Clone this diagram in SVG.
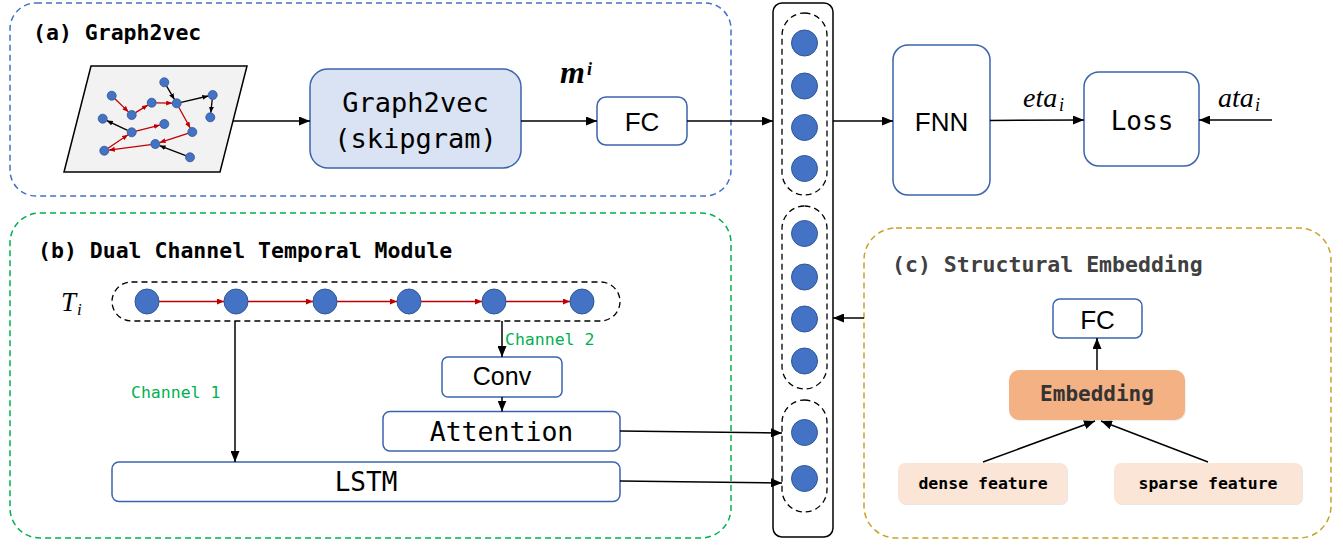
<svg xmlns="http://www.w3.org/2000/svg" width="1343" height="548" viewBox="0 0 1343 548">
<style>
.mono{font-family:"DejaVu Sans Mono","Liberation Mono",monospace;fill:#000}
.title{font-family:"DejaVu Sans Mono","Liberation Mono",monospace;font-weight:bold;font-size:21.5px}
.sans{font-family:"Liberation Sans",Arial,sans-serif;fill:#000}
.math{font-family:"Liberation Serif","Times New Roman",serif;font-style:italic;fill:#000}
.box{fill:#fff;stroke:#3a64ad;stroke-width:1.5}
.dot{fill:#4472c4;stroke:#2f5597;stroke-width:1}
.gdot{fill:#4472c4;stroke:#2f5597;stroke-width:0.8}
.grp{fill:none;stroke:#000;stroke-width:1.3;stroke-dasharray:6 4}
.conn{fill:none;stroke:#000;stroke-width:1.5}
.red{fill:none;stroke:#c00000;stroke-width:1.3}
.gblk{fill:none;stroke:#000;stroke-width:1.3}
.ch{font-family:"DejaVu Sans Mono","Liberation Mono",monospace;font-size:16.5px;fill:#00b050}
</style>
<defs>
<marker id="ah" markerUnits="userSpaceOnUse" markerWidth="11" markerHeight="9" refX="11" refY="4.5" orient="auto"><path d="M0,0 L11,4.5 L0,9 z" fill="#000"/></marker>
<marker id="ahr" markerUnits="userSpaceOnUse" markerWidth="7" markerHeight="6" refX="7" refY="3" orient="auto"><path d="M0,0 L7,3 L0,6 z" fill="#c00000"/></marker>
<marker id="ahg" markerUnits="userSpaceOnUse" markerWidth="6" markerHeight="5" refX="6" refY="2.5" orient="auto"><path d="M0,0 L6,2.5 L0,5 z" fill="#c00000"/></marker>
<marker id="ahk" markerUnits="userSpaceOnUse" markerWidth="6" markerHeight="5" refX="6" refY="2.5" orient="auto"><path d="M0,0 L6,2.5 L0,5 z" fill="#000"/></marker>
</defs>
<rect width="1343" height="548" fill="#fff"/>

<!-- module containers -->
<g id="module-a">
<rect x="10" y="3" width="721" height="193" rx="26" fill="none" stroke="#4472c4" stroke-width="1.5" stroke-dasharray="6 4"/>
<text class="title" x="33" y="40">(a) Graph2vec</text>
</g>
<g id="module-b">
<rect x="10" y="213" width="721" height="325" rx="30" fill="none" stroke="#00b050" stroke-width="1.5" stroke-dasharray="6 4"/>
<text class="title" x="38" y="258">(b) Dual Channel Temporal Module</text>
</g>
<g id="module-c">
<rect x="864" y="228" width="467" height="310" rx="32" fill="none" stroke="#c9a227" stroke-width="1.5" stroke-dasharray="6 4"/>
<text class="title" x="892" y="272" fill="#404040">(c) Structural Embedding</text>
</g>

<!-- graph picture -->
<g id="graph-input">
<polygon points="91,66 247,66 220,172 64,172" fill="#f2f2f2" stroke="#000" stroke-width="1.5"/>
<g marker-end="url(#ahg)" class="red">
<line x1="114.9" y1="98.8" x2="128.5" y2="111.9"/>
<line x1="135.5" y1="112.6" x2="147.9" y2="105.1"/>
<line x1="156.2" y1="102.8" x2="172.2" y2="103.2"/>
<line x1="178.8" y1="107.3" x2="190.2" y2="128.0"/>
<line x1="188.0" y1="133.4" x2="159.6" y2="142.6"/>
<line x1="150.8" y1="144.6" x2="108.8" y2="150.1"/>
<line x1="108.0" y1="148.2" x2="128.0" y2="134.8"/>
<line x1="136.1" y1="131.2" x2="159.9" y2="125.1"/>
</g>
<g marker-end="url(#ahk)" class="gblk">
<line x1="166.6" y1="86.2" x2="174.4" y2="99.4"/>
<line x1="181.1" y1="102.3" x2="208.3" y2="96.0"/>
<line x1="212.2" y1="99.5" x2="210.8" y2="112.8"/>
<line x1="127.6" y1="130.4" x2="106.8" y2="120.6"/>
<line x1="185.8" y1="155.7" x2="159.5" y2="145.6"/>
</g>
<g class="gdot">
<circle cx="111.7" cy="95.7" r="4.5"/>
<circle cx="131.7" cy="115" r="4.5"/>
<circle cx="151.7" cy="102.7" r="4.5"/>
<circle cx="176.7" cy="103.3" r="4.5"/>
<circle cx="164.3" cy="82.3" r="4.5"/>
<circle cx="212.7" cy="95" r="4.5"/>
<circle cx="210.3" cy="117.3" r="4.5"/>
<circle cx="102.7" cy="118.7" r="4.5"/>
<circle cx="131.7" cy="132.3" r="4.5"/>
<circle cx="164.3" cy="124" r="4.5"/>
<circle cx="192.3" cy="132" r="4.5"/>
<circle cx="155.3" cy="144" r="4.5"/>
<circle cx="104.3" cy="150.7" r="4.5"/>
<circle cx="190" cy="157.3" r="4.5"/>
</g>
</g>

<g id="graph2vec">
<rect x="310" y="69" width="211" height="99" rx="18" fill="#dae3f3" stroke="#3a64ad" stroke-width="1.5"/>
<text class="mono" x="415.5" y="112" font-size="27" text-anchor="middle">Graph2vec</text>
<text class="mono" x="415.5" y="148" font-size="27" text-anchor="middle">(skipgram)</text>
</g>

<g id="mi-label">
<text x="560" y="83" font-family="Liberation Serif,Times New Roman,serif" font-style="italic" font-weight="bold" font-size="32">m</text>
<text x="587" y="75" font-family="Liberation Serif,Times New Roman,serif" font-style="italic" font-weight="bold" font-size="18">i</text>
</g>

<g id="fc-a">
<rect class="box" x="597" y="97" width="90" height="48" rx="9"/>
<text class="sans" x="642" y="130.5" font-size="26" text-anchor="middle">FC</text>
</g>

<!-- concatenation column -->
<g id="concat-column">
<rect x="773" y="3" width="60" height="534" rx="9" fill="#fff" stroke="#000" stroke-width="1.5"/>
<rect class="grp" x="782" y="13" width="45" height="182" rx="22.5"/>
<rect class="grp" x="782" y="206" width="45" height="183" rx="22.5"/>
<rect class="grp" x="782" y="400" width="45" height="112" rx="22.5"/>
<g class="dot">
<circle cx="804.5" cy="43" r="13"/>
<circle cx="804.5" cy="86" r="13"/>
<circle cx="804.5" cy="127.5" r="13"/>
<circle cx="804.5" cy="168.5" r="13"/>
<circle cx="804.5" cy="233.5" r="13"/>
<circle cx="804.5" cy="277" r="13"/>
<circle cx="804.5" cy="319" r="13"/>
<circle cx="804.5" cy="361" r="13"/>
<circle cx="804.5" cy="432.5" r="13"/>
<circle cx="804.5" cy="478.5" r="13"/>
</g>
</g>

<g id="fnn">
<rect class="box" x="893" y="45" width="97" height="150" rx="15"/>
<text class="sans" x="941.5" y="131" font-size="26" text-anchor="middle">FNN</text>
</g>

<g id="loss">
<rect class="box" x="1084" y="72" width="115" height="94" rx="15"/>
<text class="mono" x="1142" y="130" font-size="26" text-anchor="middle">Loss</text>
</g>

<g id="labels-eta-ata">
<text class="math" x="1023" y="107" font-size="28">eta</text>
<text class="math" x="1059" y="111" font-size="18">i</text>
<text class="math" x="1218" y="107" font-size="28">ata</text>
<text class="math" x="1255" y="111" font-size="18">i</text>
</g>

<!-- temporal module -->
<g id="ti-sequence">
<text class="math" x="61" y="310.5" font-size="27">T</text>
<text class="math" x="77" y="315" font-size="17">i</text>
<rect class="grp" x="112" y="282" width="508" height="39" rx="19.5"/>
<g class="red" marker-end="url(#ahr)">
<line x1="159" y1="301.5" x2="224" y2="301.5"/>
<line x1="248" y1="301.5" x2="313" y2="301.5"/>
<line x1="337" y1="301.5" x2="397" y2="301.5"/>
<line x1="421" y1="301.5" x2="482" y2="301.5"/>
<line x1="506" y1="301.5" x2="570" y2="301.5"/>
</g>
<g class="dot">
<ellipse cx="147" cy="301.5" rx="12" ry="12.5"/>
<ellipse cx="236" cy="301.5" rx="12" ry="12.5"/>
<ellipse cx="325" cy="301.5" rx="12" ry="12.5"/>
<ellipse cx="409" cy="301.5" rx="12" ry="12.5"/>
<ellipse cx="494" cy="301.5" rx="12" ry="12.5"/>
<ellipse cx="582" cy="301.5" rx="12" ry="12.5"/>
</g>
</g>

<g id="channel-labels">
<text class="ch" x="131" y="397.5">Channel 1</text>
<text class="ch" x="505" y="345">Channel 2</text>
</g>

<g id="conv">
<rect class="box" x="442" y="357" width="120" height="40" rx="6"/>
<text class="sans" x="502" y="385" font-size="25" text-anchor="middle">Conv</text>
</g>

<g id="attention">
<rect class="box" x="383" y="411.5" width="237" height="39.5" rx="7"/>
<text class="mono" x="501.5" y="440.5" font-size="26.5" text-anchor="middle">Attention</text>
</g>

<g id="lstm">
<rect class="box" x="112" y="462" width="508" height="39.5" rx="7"/>
<text class="mono" x="366" y="491" font-size="26" text-anchor="middle">LSTM</text>
</g>

<!-- structural embedding -->
<g id="fc-c">
<rect class="box" x="1053" y="299" width="89" height="39" rx="7"/>
<text class="sans" x="1097.5" y="329" font-size="26" text-anchor="middle">FC</text>
</g>

<g id="embedding">
<rect x="1010" y="371" width="176" height="50" rx="10" fill="#e9e9e9" opacity="0.7"/>
<rect x="1009" y="370" width="176" height="50" rx="10" fill="#f4b183"/>
<text class="mono" x="1097" y="401" font-size="21" font-weight="bold" text-anchor="middle" style="fill:#333">Embedding</text>
</g>

<g id="dense-feature">
<rect x="899" y="464" width="169" height="41" rx="7" fill="#e6e6e6"/>
<rect x="898" y="463" width="169" height="41" rx="7" fill="#fbe5d6"/>
<text class="mono" x="983" y="489" font-size="16.5" font-weight="bold" text-anchor="middle">dense feature</text>
</g>

<g id="sparse-feature">
<rect x="1115" y="464" width="188" height="41" rx="7" fill="#e6e6e6"/>
<rect x="1114" y="463" width="188" height="41" rx="7" fill="#fbe5d6"/>
<text class="mono" x="1208" y="489" font-size="16.5" font-weight="bold" text-anchor="middle">sparse feature</text>
</g>

<!-- connectors -->
<g id="connectors" class="conn">
<line x1="233" y1="121" x2="310" y2="121" marker-end="url(#ah)"/>
<line x1="521" y1="121" x2="597" y2="121" marker-end="url(#ah)"/>
<line x1="687" y1="121" x2="773" y2="121" marker-end="url(#ah)"/>
<line x1="833" y1="121" x2="893" y2="121" marker-end="url(#ah)"/>
<line x1="990" y1="120.5" x2="1084" y2="120" marker-end="url(#ah)"/>
<line x1="1272" y1="120" x2="1199" y2="120" marker-end="url(#ah)"/>
<line x1="864" y1="318" x2="833" y2="318" marker-end="url(#ah)"/>
<line x1="235" y1="321" x2="235" y2="462" marker-end="url(#ah)"/>
<line x1="502" y1="321" x2="502" y2="357" marker-end="url(#ah)"/>
<line x1="502" y1="397" x2="502" y2="411.5" marker-end="url(#ah)"/>
<line x1="620" y1="431" x2="782" y2="433" marker-end="url(#ah)"/>
<line x1="620" y1="481" x2="782" y2="483" marker-end="url(#ah)"/>
<line x1="1097" y1="370" x2="1097" y2="338" marker-end="url(#ah)"/>
<line x1="983" y1="462" x2="1095" y2="421" marker-end="url(#ah)"/>
<line x1="1208" y1="462" x2="1101" y2="421" marker-end="url(#ah)"/>
</g>
</svg>
